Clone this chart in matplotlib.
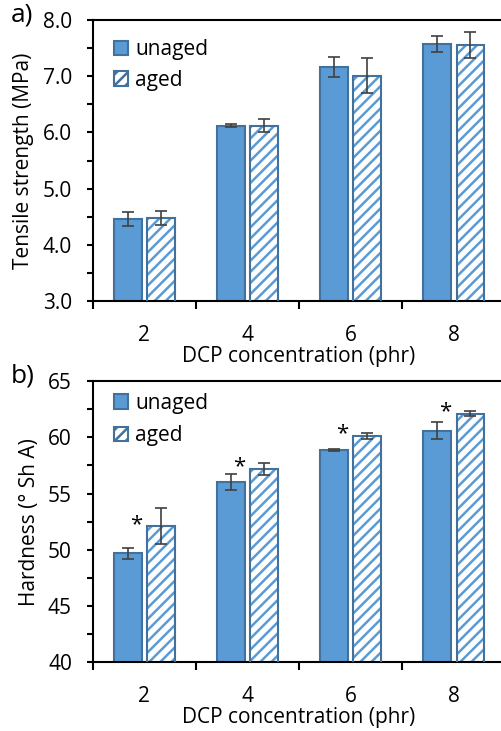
import matplotlib.pyplot as plt
import numpy as np
from matplotlib.patches import Patch

plt.rcParams['font.family'] = ['Open Sans', 'DejaVu Sans']
plt.rcParams['hatch.linewidth'] = 1.8

# data
dcp = ['2', '4', '6', '8']
tensile_unaged = [4.46, 6.12, 7.17, 7.58]
tensile_unaged_err = [0.13, 0.03, 0.18, 0.14]
tensile_aged = [4.48, 6.12, 7.01, 7.56]
tensile_aged_err = [0.12, 0.12, 0.31, 0.23]
hard_unaged = [49.7, 56.0, 58.9, 60.6]
hard_unaged_err = [0.5, 0.7, 0.1, 0.75]
hard_aged = [52.1, 57.2, 60.15, 62.1]
hard_aged_err = [1.6, 0.55, 0.27, 0.25]
hard_signif = [True, True, True, True]

fill = '#5B9BD5'
edge = '#41719C'
errc = '#404040'
fs = 15

fig = plt.figure(figsize=(5.02, 7.31), dpi=100)
ax_a = fig.add_axes([0.1847, 0.5882, 0.822, 0.3844])
ax_b = fig.add_axes([0.1847, 0.0940, 0.822, 0.3848])

x = np.arange(len(dcp))
w = 0.27
off = 0.162


def draw(ax, unaged, unaged_err, aged, aged_err, ylo, yhi, step, minor, fmt, ylabel,
         lspace, legy):
    ekw = dict(ecolor=errc, elinewidth=1.2, capsize=4.5, capthick=1.2)
    ax.bar(x - off, unaged, w, color=fill, edgecolor=edge, linewidth=1.5,
           yerr=unaged_err, error_kw=ekw, zorder=2)
    ax.bar(x + off, aged, w, color='white', edgecolor=fill, hatch='///', linewidth=0, zorder=2)
    ax.bar(x + off, aged, w, color='none', edgecolor=edge, linewidth=1.5,
           yerr=aged_err, error_kw=ekw, zorder=3)
    ax.set_xlim(-0.5, len(dcp) - 0.5)
    ax.set_ylim(ylo, yhi)
    ticks = np.arange(ylo, yhi + step / 2, step)
    ax.set_yticks(ticks)
    ax.set_yticks(np.arange(ylo, yhi + minor / 2, minor), minor=True)
    ax.set_yticklabels([fmt.format(v) for v in ticks])
    ax.set_xticks(x)
    ax.set_xticklabels(dcp)
    ax.set_xticks(np.arange(-0.5, len(dcp) + 0.5, 1), minor=True)
    ax.tick_params(axis='x', which='major', length=0, labelsize=fs, pad=17)
    ax.tick_params(axis='x', which='minor', length=6, width=1.5, direction='out')
    ax.tick_params(axis='y', which='both', length=4, width=1.5, direction='out',
                   labelsize=fs, pad=11)
    for s in ['top', 'left', 'bottom']:
        ax.spines[s].set_linewidth(1.5)
    ax.spines['right'].set_visible(False)
    ax.set_xlabel('DCP concentration (phr)', fontsize=fs, labelpad=0)
    ax.set_ylabel(ylabel, fontsize=fs, labelpad=6)

    h1 = Patch(facecolor=fill, edgecolor=edge, linewidth=1.5)
    h2 = Patch(facecolor='white', edgecolor=fill, hatch='///', linewidth=1.5)
    leg = ax.legend([h1, h2], ['unaged', 'aged'], loc='upper left',
                    bbox_to_anchor=(0.005, legy), frameon=False, fontsize=fs,
                    handlelength=0.7, handleheight=0.7, handletextpad=0.35,
                    labelspacing=lspace)
    leg.get_patches()[1].set_edgecolor(edge)


draw(ax_a, tensile_unaged, tensile_unaged_err, tensile_aged, tensile_aged_err,
     3.0, 8.0, 1.0, 0.5, '{:.1f}', 'Tensile strength (MPa)', 0.45, 0.998)
draw(ax_b, hard_unaged, hard_unaged_err, hard_aged, hard_aged_err,
     40, 65, 5, 2.5, '{:.0f}', 'Hardness (° Sh A)', 0.55, 1.025)

for i, s in enumerate(hard_signif):
    if s:
        ax_b.text(x[i] - 0.08, hard_aged[i] + 0.15, '*', ha='center', va='center',
                  fontsize=16, color='black')

fig.text(0.022, 0.979, 'a)', fontsize=19, ha='left', va='center')
fig.text(0.022, 0.486, 'b)', fontsize=19, ha='left', va='center')

fig.savefig('out.png', dpi=100)
